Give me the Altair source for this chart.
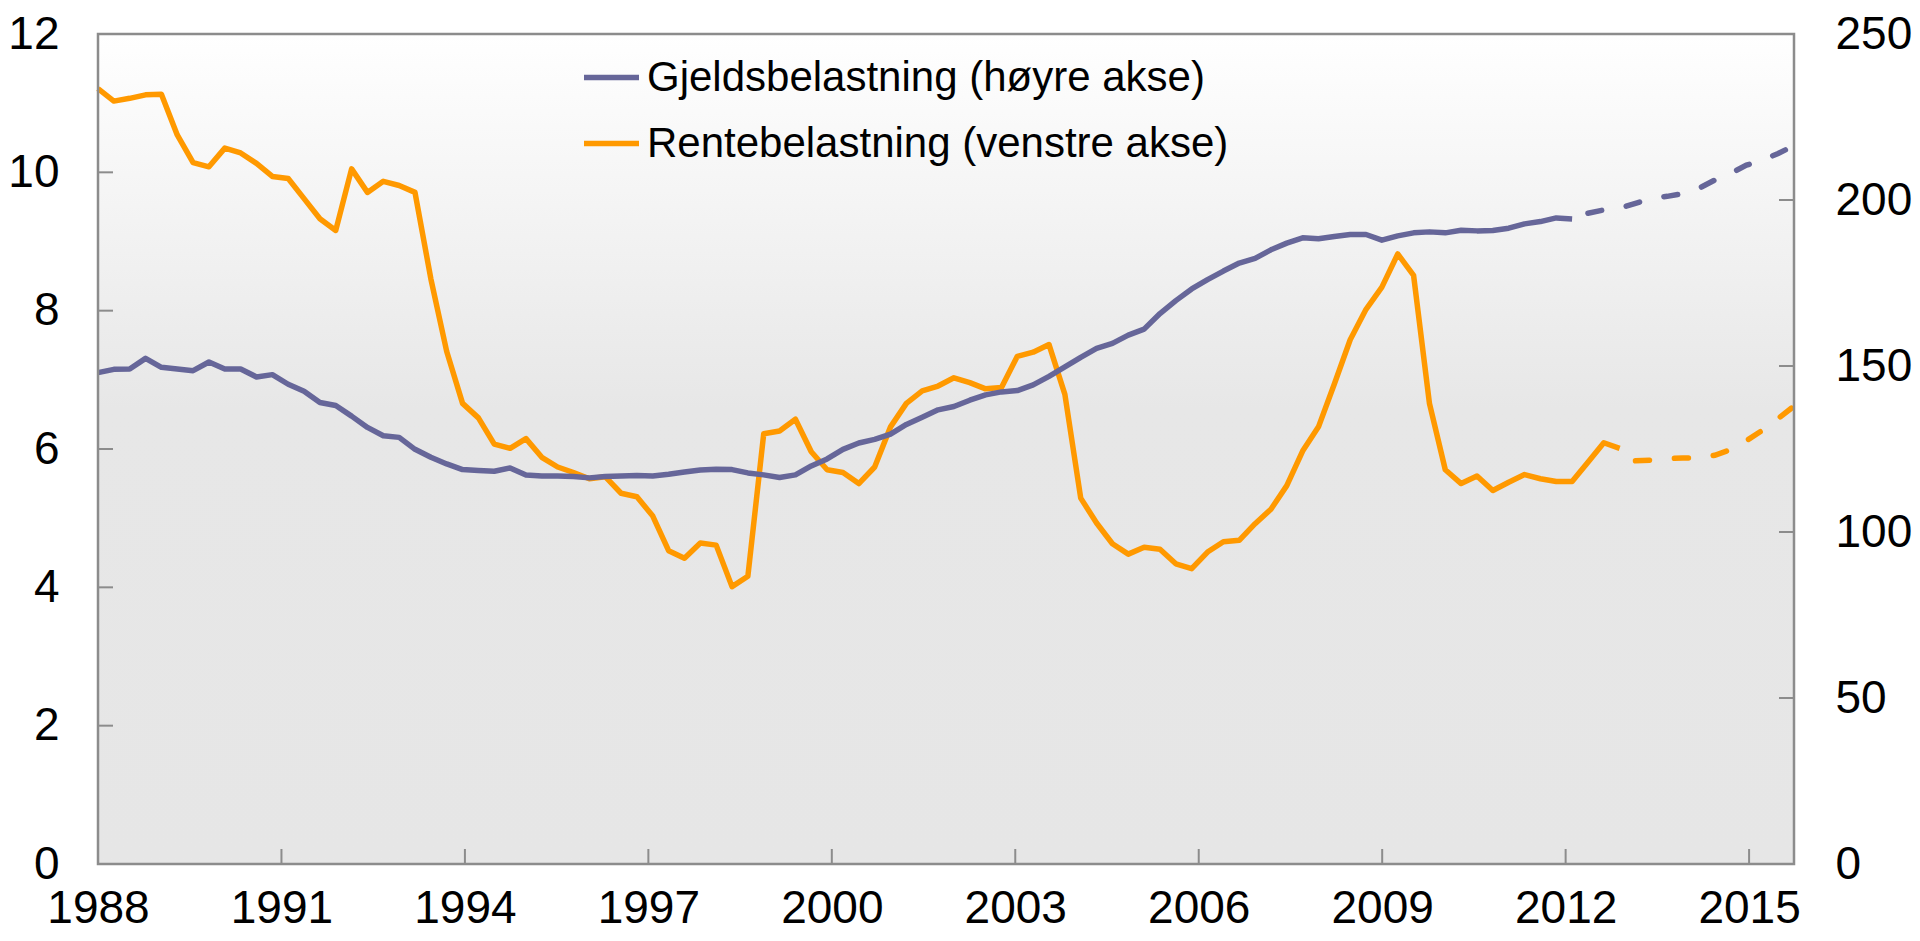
import altair as alt
import pandas as pd

# ---- data ----
start_year = 1988
step = 0.2592  # spacing of observations as drawn (years)

rente_hist = [11.21, 11.03, 11.07, 11.12, 11.13, 10.54, 10.14, 10.08, 10.35, 10.28,
              10.13, 9.94, 9.91, 9.62, 9.33, 9.16, 10.05, 9.71, 9.87, 9.81,
              9.71, 8.46, 7.41, 6.66, 6.45, 6.07, 6.01, 6.15, 5.88, 5.74,
              5.66, 5.57, 5.60, 5.36, 5.31, 5.03, 4.53, 4.42, 4.64, 4.61,
              4.01, 4.16, 6.22, 6.26, 6.43, 5.96, 5.70, 5.66, 5.50, 5.74,
              6.32, 6.66, 6.84, 6.91, 7.03, 6.96, 6.87, 6.89, 7.34, 7.40,
              7.51, 6.79, 5.29, 4.93, 4.63, 4.48, 4.58, 4.55, 4.34, 4.27,
              4.51, 4.66, 4.68, 4.92, 5.13, 5.47, 5.97, 6.32, 6.94, 7.58,
              8.02, 8.34, 8.82, 8.51, 6.66, 5.70, 5.50, 5.61, 5.40, 5.52,
              5.63, 5.57, 5.53, 5.53, 5.81, 6.09, 6.01]
rente_proj = [5.83, 5.84, 5.86, 5.87, 5.87, 5.91, 5.99, 6.12, 6.27, 6.44, 6.62]

gjeld_hist = [148.0, 149.0, 149.1, 152.3, 149.6, 149.1, 148.6, 151.2, 149.1, 149.1,
              146.7, 147.4, 144.5, 142.4, 139.0, 138.1, 134.9, 131.5, 129.0, 128.5,
              124.9, 122.5, 120.5, 118.8, 118.5, 118.3, 119.3, 117.2, 116.9, 116.9,
              116.7, 116.3, 116.7, 116.9, 117.0, 116.9, 117.4, 118.1, 118.7, 118.9,
              118.8, 117.8, 117.2, 116.4, 117.2, 119.9, 122.0, 124.9, 126.8, 127.9,
              129.5, 132.4, 134.6, 136.8, 137.8, 139.7, 141.3, 142.2, 142.6, 144.3,
              146.9, 149.7, 152.6, 155.3, 156.8, 159.3, 161.1, 165.8, 169.7, 173.2,
              176.0, 178.6, 181.0, 182.4, 185.0, 187.0, 188.6, 188.3, 189.0, 189.6,
              189.6, 187.9, 189.2, 190.1, 190.4, 190.1, 190.9, 190.7, 190.8, 191.5,
              192.8, 193.5, 194.6, 194.3]
gjeld_proj = [196.0, 197.0, 197.5, 199.0, 200.5, 201.1, 201.9, 203.5, 206.0, 208.0,
              210.5, 212.0, 214.0, 216.4]

x_ticks = [1988, 1991, 1994, 1997, 2000, 2003, 2006, 2009, 2012, 2015]
left_ticks = [0, 2, 4, 6, 8, 10, 12]
right_ticks = [0, 50, 100, 150, 200, 250]

series_names = ["Gjeldsbelastning (høyre akse)", "Rentebelastning (venstre akse)"]
series_colors = ["#666699", "#ff9900"]

n_total = len(rente_hist) + len(rente_proj)
x_max = start_year + (n_total - 1) * step


def frame(values, first_index, name):
    return pd.DataFrame({
        "t": [start_year + (first_index + i) * step for i in range(len(values))],
        "v": values,
        "serie": name,
    })


df_rh = frame(rente_hist, 0, series_names[1])
df_rp = frame(rente_proj, len(rente_hist), series_names[1])
df_gh = frame(gjeld_hist, 0, series_names[0])
df_gp = frame(gjeld_proj, len(gjeld_hist), series_names[0])

# ---- styling ----
W, H = 1696, 830
FONT = "Liberation Sans, Arial, Helvetica, sans-serif"
GRAY = "#8c8c8c"
TICK_LEN = 15
LW = 5.5

xscale = alt.Scale(domain=[start_year, x_max], nice=False, zero=False)
xaxis = alt.Axis(values=x_ticks, format="d", labelFlush=False, labelOverlap=False,
                 domain=False, ticks=False, grid=False, title=None, labelPadding=22)
X = alt.X("t:Q", scale=xscale, axis=xaxis)

ly = alt.Y("v:Q", scale=alt.Scale(domain=[0, 12], nice=False, zero=True),
           axis=alt.Axis(values=left_ticks, orient="left", domain=False, ticks=False,
                         grid=False, title=None, labelPadding=39))
ry = alt.Y("v:Q", scale=alt.Scale(domain=[0, 250], nice=False, zero=True),
           axis=alt.Axis(values=right_ticks, orient="right", domain=False, ticks=False,
                         grid=False, title=None, labelPadding=41))

cscale = alt.Scale(domain=series_names, range=series_colors)
legend = alt.Legend(orient="none", legendX=483, legendY=13, title=None,
                    symbolType="stroke", symbolSize=3025, symbolStrokeWidth=5.5,
                    labelFontSize=42, labelFont=FONT, labelColor="black", labelLimit=0,
                    labelOffset=5, rowPadding=14, padding=0, direction="vertical")
C = alt.Color("serie:N", scale=cscale, legend=legend)

gradient = alt.LinearGradient(
    gradient="linear",
    stops=[alt.GradientStop(color="#ffffff", offset=0),
           alt.GradientStop(color="#e7e7e7", offset=0.45),
           alt.GradientStop(color="#e6e6e6", offset=1)],
    x1=0, x2=0, y1=0, y2=1)

one = pd.DataFrame({"k": [0]})
bg = alt.Chart(one).mark_rect(fill=gradient).encode(
    x=alt.value(0), x2=alt.value(W), y=alt.value(0), y2=alt.value(H))
border = alt.Chart(one).mark_rect(fillOpacity=0, stroke=GRAY, strokeWidth=2.5).encode(
    x=alt.value(0), x2=alt.value(W), y=alt.value(0), y2=alt.value(H))

xt = alt.Chart(pd.DataFrame({"t": x_ticks[1:]})).mark_rule(color=GRAY, strokeWidth=2).encode(
    x=X, y=alt.value(H - TICK_LEN), y2=alt.value(H))

orange_solid = alt.Chart(df_rh).mark_line(strokeWidth=LW, strokeJoin="round").encode(
    x=X, y=ly, color=C)
orange_dash = alt.Chart(df_rp).mark_line(strokeWidth=LW, color=series_colors[1],
                                         strokeDash=[14, 25], strokeCap="round").encode(x=X, y=ly)
lt = alt.Chart(pd.DataFrame({"v": left_ticks[1:-1]})).mark_rule(color=GRAY, strokeWidth=2).encode(
    y=ly, x=alt.value(0), x2=alt.value(TICK_LEN))
left = alt.layer(lt, orange_solid, orange_dash)

blue_solid = alt.Chart(df_gh).mark_line(strokeWidth=LW, strokeJoin="round").encode(
    x=X, y=ry, color=C)
blue_dash = alt.Chart(df_gp).mark_line(strokeWidth=LW, color=series_colors[0],
                                       strokeDash=[14, 25], strokeCap="round").encode(x=X, y=ry)
rt = alt.Chart(pd.DataFrame({"v": right_ticks[1:-1]})).mark_rule(color=GRAY, strokeWidth=2).encode(
    y=ry, x=alt.value(W - TICK_LEN), x2=alt.value(W))
right = alt.layer(rt, blue_solid, blue_dash)

chart = alt.layer(bg, xt, left, right, border).resolve_scale(
    y="independent"
).properties(
    width=W, height=H,
    padding={"left": 90, "top": 26, "right": 118, "bottom": 69},
    autosize=alt.AutoSizeParams(type="none"),
).configure_view(
    strokeWidth=0
).configure_axis(
    labelFont=FONT, labelFontSize=46, labelColor="black"
)

chart.save("out.html", embed_options={"renderer": "svg", "actions": False})
